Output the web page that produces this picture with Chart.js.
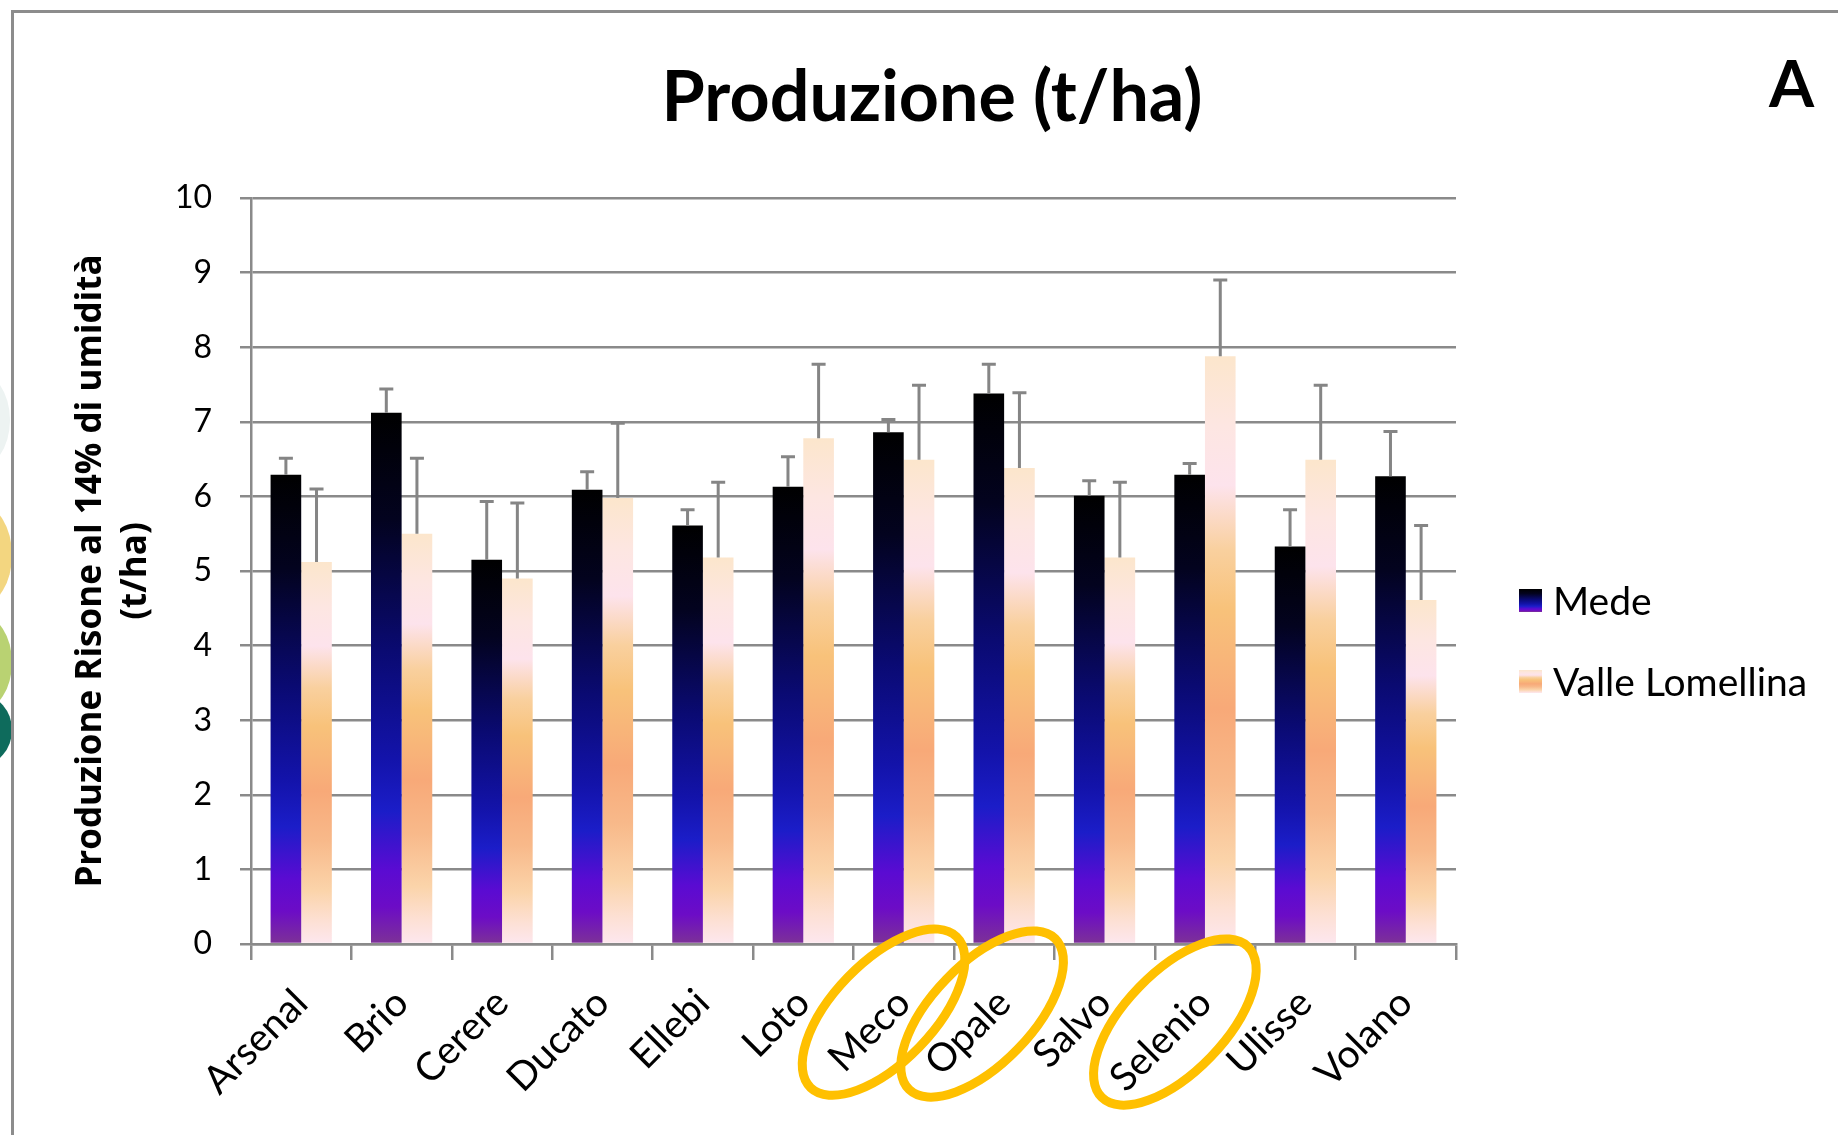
<!DOCTYPE html>
<html>
<head>
<meta charset="utf-8">
<title>Produzione (t/ha)</title>
<script src="https://cdn.jsdelivr.net/npm/chart.js@4.4.1/dist/chart.umd.min.js"></script>
<style>
  html, body { margin: 0; padding: 0; background: #fff; }
  body { width: 1838px; height: 1135px; position: relative; overflow: hidden; font-family: Lato, sans-serif; }
  #chart { position: absolute; left: 0; top: 0; }
  .frame { position: absolute; left: 11px; top: 10px; right: -10px; bottom: -10px; border-top: 3px solid #8c8c8c; border-left: 3px solid #8c8c8c; pointer-events: none; }
  .deco { position: absolute; border-radius: 50%; }
  #title { position: absolute; left: 0; width: 1864px; top: 59px; text-align: center; font: bold 70px/1 Lato, sans-serif; color: #000; }
  #panel { position: absolute; left: 1769px; top: 50px; font: bold 65px/1 Lato, sans-serif; color: #000; }
  .legend-item { position: absolute; left: 1519px; height: 44px; display: flex; align-items: center; white-space: nowrap; }
  .legend-item .swatch { width: 23px; height: 23px; margin-right: 11px; }
  .legend-item .label { font: 39px/44px Lato, sans-serif; color: #000; }
</style>
</head>
<body>
<div class="deco" style="left:-60px; top:370px; width:70px; height:100px; background:#edf3f2;"></div>
<div class="deco" style="left:-50px; top:505px; width:62px; height:100px; background:#f3d680;"></div>
<div class="deco" style="left:-50px; top:615px; width:62px; height:95px; background:#b9d272;"></div>
<div class="deco" style="left:-50px; top:695px; width:62px; height:70px; background:#0e6b5c;"></div>
<canvas id="chart" width="1838" height="1135"></canvas>
<div class="frame"></div>
<div id="title">Produzione (t/ha)</div>
<div id="panel">A</div>
<div id="legend"></div>
<script>
const varieties = ['Arsenal', 'Brio', 'Cerere', 'Ducato', 'Ellebi', 'Loto', 'Meco', 'Opale', 'Salvo', 'Selenio', 'Ulisse', 'Volano'];
const mede = [6.29, 7.12, 5.15, 6.09, 5.61, 6.13, 6.86, 7.38, 6.01, 6.29, 5.33, 6.27];
const medeErr = [0.22, 0.32, 0.78, 0.24, 0.21, 0.40, 0.17, 0.39, 0.20, 0.15, 0.49, 0.60];
const valle = [5.12, 5.50, 4.90, 5.98, 5.18, 6.78, 6.49, 6.38, 5.18, 7.88, 6.49, 4.61];
const valleErr = [0.98, 1.01, 1.01, 1.00, 1.01, 0.99, 1.00, 1.01, 1.01, 1.02, 1.00, 1.00];
const yTicks = [0, 1, 2, 3, 4, 5, 6, 7, 8, 9, 10];
const circled = ['Meco', 'Opale', 'Selenio'];

// gradient stops, top of bar -> base
const medeStops = [[0, '#000000'], [0.2, '#03031f'], [0.45, '#0a0a72'], [0.65, '#1313aa'], [0.75, '#1b1dc8'], [0.86, '#5a0bd2'], [0.93, '#6c0cc6'], [1, '#7d3296']];
const valleStops = [[0, '#fce6cc'], [0.12, '#fde6e2'], [0.22, '#fde3ec'], [0.33, '#f9d09e'], [0.43, '#f8c27a'], [0.6, '#f8a978'], [0.73, '#f8b98a'], [0.86, '#fbd4aa'], [0.94, '#fde0d4'], [1, '#fde7ef']];

const labelPad = 20;
const labelSize = 39;

function barGradient(stops) {
    return function (context) {
        const chart = context.chart;
        if (!chart.chartArea || context.type !== 'data') {
            return stops[Math.floor(stops.length / 2)][1];
        }
        const y = chart.scales.y;
        const top = y.getPixelForValue(context.raw);
        const base = y.getPixelForValue(0);
        const g = chart.ctx.createLinearGradient(0, top, 0, base);
        stops.forEach(([o, c]) => g.addColorStop(o, c));
        return g;
    };
}

const errorBars = {
    id: 'errorBars',
    afterDatasetsDraw(chart) {
        const { ctx, scales: { y } } = chart;
        ctx.save();
        ctx.strokeStyle = '#858585';
        ctx.lineWidth = 3;
        chart.data.datasets.forEach((ds, di) => {
            chart.getDatasetMeta(di).data.forEach((bar, i) => {
                const top = y.getPixelForValue(ds.data[i] + ds.errors[i]);
                ctx.beginPath();
                ctx.moveTo(bar.x, bar.y);
                ctx.lineTo(bar.x, top);
                ctx.moveTo(bar.x - 7, top);
                ctx.lineTo(bar.x + 7, top);
                ctx.stroke();
            });
        });
        ctx.restore();
    }
};

// yellow rings drawn round some category labels
const circleLabels = {
    id: 'circleLabels',
    afterDraw(chart) {
        const { ctx, scales: { x } } = chart;
        ctx.save();
        ctx.font = labelSize + 'px Lato';
        ctx.strokeStyle = '#ffc000';
        ctx.lineWidth = 9;
        const y0 = x.top + 16 + labelPad;
        circled.forEach(name => {
            const i = varieties.indexOf(name);
            const xc = x.getPixelForValue(i);
            const half = ctx.measureText(name).width / 2 * Math.SQRT1_2;
            ctx.beginPath();
            ctx.ellipse(xc - half + 14, y0 + half - 2, 105, 50, -46 * Math.PI / 180, 0, 2 * Math.PI);
            ctx.stroke();
        });
        ctx.restore();
    }
};

Chart.defaults.font.family = 'Lato';
Chart.defaults.color = '#000';

const ctx = document.getElementById('chart').getContext('2d');
const chart = new Chart(ctx, {
    type: 'bar',
    data: {
        labels: varieties,
        datasets: [
            { label: 'Mede', data: mede, errors: medeErr, stops: medeStops, backgroundColor: barGradient(medeStops), borderWidth: 0 },
            { label: 'Valle Lomellina', data: valle, errors: valleErr, stops: valleStops, backgroundColor: barGradient(valleStops), borderWidth: 0 }
        ]
    },
    options: {
        responsive: false,
        animation: false,
        layout: { padding: { left: 58, top: 198, right: 382, bottom: 0 } },
        datasets: { bar: { categoryPercentage: 0.61, barPercentage: 1 } },
        plugins: {
            legend: { display: false },
            title: { display: false },
            tooltip: { enabled: false }
        },
        scales: {
            x: {
                afterFit: (scale) => { scale.height = 191; },
                grid: { display: true, drawOnChartArea: false, drawTicks: true, tickLength: 16, color: '#8a8a8a', lineWidth: 2.5, offset: true },
                border: { display: true, color: '#8a8a8a', width: 2.5 },
                ticks: { font: { size: labelSize }, maxRotation: 45, minRotation: 45, autoSkip: false, padding: labelPad }
            },
            y: {
                min: 0,
                max: 10,
                afterFit: (scale) => { scale.width = 193; },
                afterBuildTicks: (scale) => { scale.ticks = yTicks.map(v => ({ value: v })); },
                grid: { color: '#8a8a8a', lineWidth: 2.5, tickLength: 11 },
                border: { display: true, color: '#8a8a8a', width: 2.5 },
                ticks: { font: { size: 32 }, padding: 28 },
                title: {
                    display: true,
                    text: ['Produzione Risone al 14% di umidità', '(t/ha)'],
                    font: { family: 'Open Sans', size: 35, weight: 'bold', lineHeight: 1.3 },
                    padding: { top: 10, bottom: 18 }
                }
            }
        }
    },
    plugins: [errorBars, circleLabels]
});

// html legend built from the datasets
const legendBox = document.getElementById('legend');
chart.data.datasets.forEach((ds, i) => {
    const row = document.createElement('div');
    row.className = 'legend-item';
    row.style.top = (578 + i * 81) + 'px';
    const swatch = document.createElement('span');
    swatch.className = 'swatch';
    swatch.style.background = 'linear-gradient(to bottom, ' + ds.stops.map(([o, c]) => c + ' ' + (o * 100) + '%').join(', ') + ')';
    const label = document.createElement('span');
    label.className = 'label';
    label.textContent = ds.label;
    row.appendChild(swatch);
    row.appendChild(label);
    legendBox.appendChild(row);
});
</script>
</body>
</html>
